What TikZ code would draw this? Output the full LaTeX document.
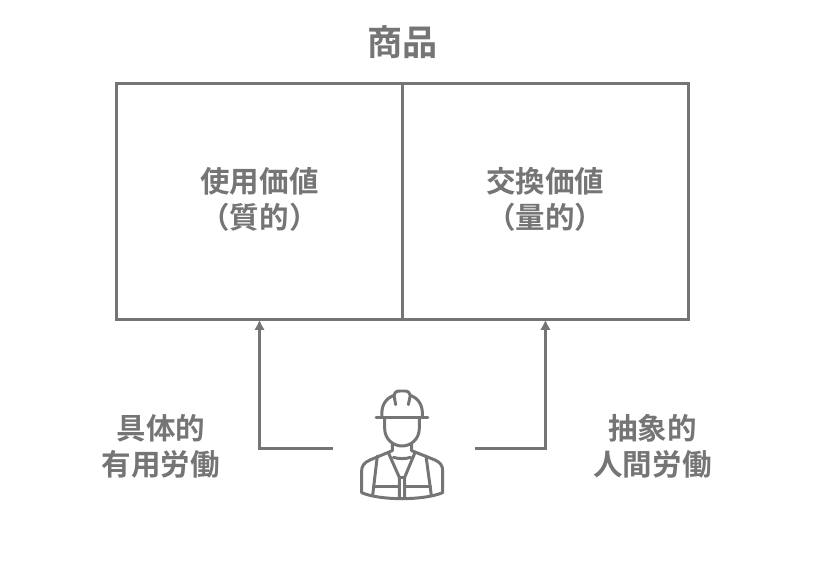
\documentclass[tikz,border=0pt]{standalone}
\usepackage{fontspec}
\setmainfont{Noto Sans CJK JP}[BoldFont={* Bold}]
\usetikzlibrary{arrows.meta,positioning}
\definecolor{inkgray}{HTML}{757575}
\newcommand{\bodysize}{\fontsize{16.8}{20.4}\selectfont\bfseries}
\tikzset{
    valuebox/.style={draw=inkgray, line width=1.7pt, minimum width=5.72cm, minimum height=4.72cm, inner sep=0pt, outer sep=0pt},
    caption/.style={text=inkgray, align=center, inner sep=0pt, font=\bodysize},
    flow/.style={draw=inkgray, line width=1.8pt, -{Latex[length=5.8pt,width=6pt]}},
    worker/.style={draw=inkgray, line width=1.7pt, line cap=round, line join=round},
}
\begin{document}
\begin{tikzpicture}[x=0.02cm, y=-0.02cm]
    \useasboundingbox (0, 0) rectangle (816, 575);

    % the boxes
    \node[valuebox] (usevalue) at (259.5, 201.7) {};
    \node[valuebox, anchor=west] (exchvalue) at (usevalue.east) {};
    \node[caption, yshift=1.1pt] (usetext) at (usevalue) {使用価値\\（質的）};
    \node[caption, yshift=1.1pt] (exchtext) at (exchvalue) {交換価値\\（量的）};
    \node[caption, font=\fontsize{20}{24}\selectfont\bfseries] (goods) at (402.5, 42.5) {商品};

    % the labels
    \node[caption] (concrete) at (161, 446) {具体的\\有用労働};
    \node[caption] (abstract) at (652.5, 446) {抽象的\\人間労働};

    % the connectors
    \coordinate (workerleft) at (333, 448.5);
    \coordinate (workerright) at (475, 448.5);
    \draw[flow] (workerleft) -| (usevalue.south);
    \draw[flow] (workerright) -| (exchvalue.south);

    % the worker
    \begin{scope}[shift={(340, 380)}, x=0.00667cm, y=-0.00667cm]
        % helmet
        \draw[worker] (108, 112) -- (264, 112);
        \draw[worker] (126, 112) .. controls (122, 75) and (138, 55) .. (162, 46)
            .. controls (165, 36) and (170, 33) .. (180, 33) -- (194, 33)
            .. controls (204, 33) and (209, 37) .. (211, 46)
            .. controls (235, 55) and (250, 75) .. (247, 112);
        \draw[worker] (162, 46) -- (167, 74);
        \draw[worker] (211, 46) -- (205, 74);
        % face
        \draw[worker] (134, 112) -- (134, 145)
            .. controls (134, 178) and (160, 198) .. (186, 198)
            .. controls (212, 198) and (238, 178) .. (238, 145) -- (238, 112);
        % neck and shoulders
        \draw[worker] (157, 190) -- (157, 212) -- (90, 240)
            .. controls (72, 248) and (65, 258) .. (65, 272) -- (65, 338);
        \draw[worker] (215, 190) -- (215, 212) -- (285, 240)
            .. controls (302, 248) and (308, 258) .. (308, 272) -- (308, 338);
        \draw[worker] (65, 338) .. controls (120, 362) and (250, 362) .. (308, 338);
        % vest
        \draw[worker] (112, 228) -- (98, 346);
        \draw[worker] (258, 228) -- (274, 346);
        \draw[worker] (146, 220) -- (178, 292) -- (178, 352);
        \draw[worker] (224, 220) -- (194, 292) -- (194, 352);
        \draw[worker] (178, 292) -- (194, 292);
        \draw[worker] (160, 232) .. controls (175, 237) and (197, 237) .. (212, 232);
        \draw[worker] (100, 320) -- (178, 320);
        \draw[worker] (194, 320) -- (272, 320);
    \end{scope}
\end{tikzpicture}
\end{document}
